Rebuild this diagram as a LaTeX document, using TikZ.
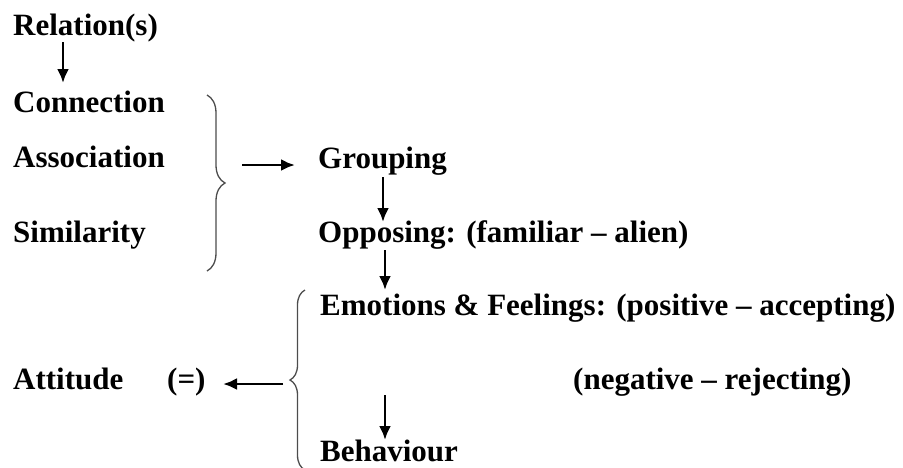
\documentclass[tikz,border=0pt]{standalone}
\usepackage{fontspec}
\setmainfont{Liberation Serif}
\usetikzlibrary{arrows.meta,decorations.pathreplacing,calc}
\tikzset{
  lbl/.style={anchor=base west, inner sep=0pt, font=\fontsize{31}{36}\selectfont\bfseries},
  arr/.style={line width=2.8pt, -{Latex[length=14pt,width=12pt]}},
  brc/.style={draw=black!70, line width=1.3pt, decorate, decoration={brace, amplitude=#1, aspect=0.5}}
}
\begin{document}
\begin{tikzpicture}[x=1pt,y=-1pt]
\useasboundingbox (0,0) rectangle (903,467);
\node[lbl] (rel) at (13,35) {Relation(s)};
\node[lbl] (con) at (13,112) {Connection};
\node[lbl] (ass) at (13,167) {Association};
\node[lbl] (sim) at (13,242) {Similarity};
\node[lbl] (grp) at (318,168) {Grouping};
\node[lbl] (opp) at (318,242) {Opposing: (familiar -- alien)};
\node[lbl] (emo) at (320,315) {Emotions \& Feelings: (positive -- accepting)};
\node[lbl] (neg) at (573,389) {(negative -- rejecting)};
\node[lbl] (att) at (13,389) {Attitude};
\node[lbl] (eq) at (167,389) {(=)};
\node[lbl] (beh) at (320,461) {Behaviour};
\coordinate (rb1) at (207,95);
\coordinate (rb2) at (207,271);
\coordinate (lb1) at (305,470);
\coordinate (lb2) at (305,290);
\draw[brc=18pt] (rb1) -- (rb2);
\draw[brc=15pt] (lb1) -- (lb2);
\draw[arr] ($(rel.base west)+(50,7)$) -- ($(rel.base west)+(50,48)$);
\draw[arr] ($(grp.base west)+(-76,-3)$) -- ($(grp.base west)+(-23,-3)$);
\draw[arr] ($(grp.base west)+(65,9)$) -- ($(grp.base west)+(65,54)$);
\draw[arr] ($(opp.base west)+(67,8)$) -- ($(opp.base west)+(67,48)$);
\draw[arr] ($(eq.base west)+(116,-5)$) -- ($(eq.base west)+(56,-5)$);
\draw[arr] ($(beh.base west)+(65,-66)$) -- ($(beh.base west)+(65,-21)$);
\end{tikzpicture}
\end{document}
